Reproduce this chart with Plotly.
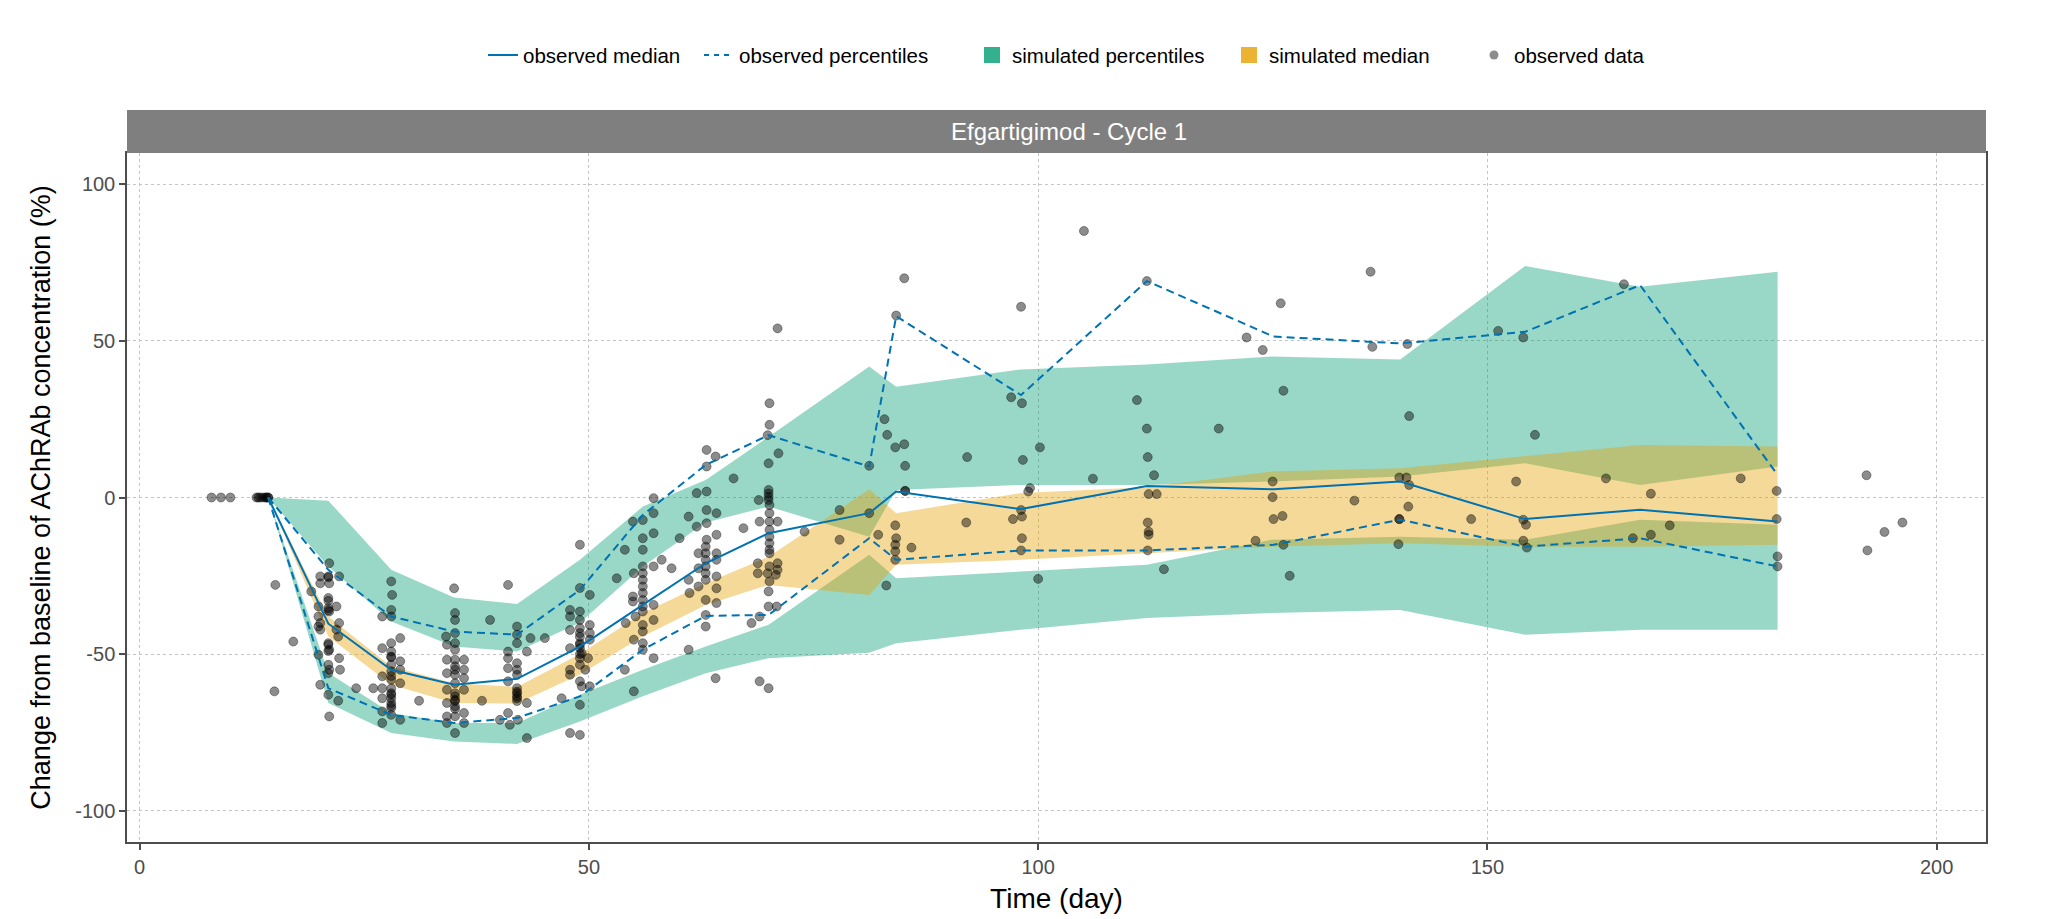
import plotly.graph_objects as go

# ---- simulated bins (time of bin, day) ----
bin_time = [14.3, 21, 28, 35, 42, 49, 56, 63, 70, 81.2, 84.2, 98.1, 112.1, 126, 140.3, 154.2, 167, 182.3]

# upper percentile CI ribbon (teal)
sim_hi_top = [0, -1, -23.1, -31.9, -34, -19.9, -2.9, 5.6, 19.4, 41.8, 35.4, 40.9, 42.5, 45, 44.1, 73.9, 67.3, 72.1]
sim_hi_bot = [0, -22, -39.6, -47.6, -49.2, -40, -22, -8, -2.9, -12.5, 2.4, 4.0, 4.0, 5.1, 6.7, 10.9, 4.0, 9.9]
# median CI ribbon (orange)
sim_med_top = [0, -38, -54, -59.3, -60.5, -50, -36.9, -27.4, -18.9, 2.6, -5, 1.4, 3.3, 8.3, 9.3, 13.1, 16.8, 16.3]
sim_med_bot = [0, -44.4, -59.8, -65.6, -65.8, -56.5, -44.4, -34.3, -27.9, -31.1, -21.5, -19.9, -17.8, -15.7, -14.6, -15.7, -15.7, -15.1]
# lower percentile CI ribbon (teal)
sim_lo_top = [0, -56, -68.8, -72, -72, -63, -55, -47.6, -40.6, -18.3, -25.8, -23.6, -21.5, -13.5, -12.5, -13.5, -7.1, -8.7]
sim_lo_bot = [0, -65.6, -75.2, -77.9, -78.7, -71.5, -63.5, -56.1, -51.3, -49.6, -46.5, -42.2, -38.5, -36.9, -35.9, -43.8, -42.2, -42.2]

# ---- observed summary lines ----
obs_time = [14.3, 21, 28, 35, 42, 49, 56, 63, 70, 81.2, 84.2, 98.1, 112.1, 126.2, 140.3, 154.2, 167, 182.3]
obs_median = [0, -40.3, -55, -59.8, -57.9, -47.6, -34.3, -21, -11.4, -5.0, 1.9, -3.7, 3.7, 2.6, 5.1, -6.9, -3.9, -7.7]
obs_p_hi = [0, -23.1, -38, -42.8, -43.8, -29.5, -5.6, 10.4, 19.9, 9.9, 57.9, 32.7, 69.1, 51.4, 49.2, 52.9, 67.8, 7.2]
obs_p_lo = [0, -60.9, -69.4, -72, -70.4, -63.5, -48.6, -37.8, -37.5, -13, -19.9, -16.9, -16.9, -15.1, -7.1, -15.7, -13, -22]

# ---- observed data points ----
obs_day = [
    8.0, 9.05, 10.1, 13.0, 13.2, 13.4, 13.7, 14.0, 14.1, 14.3, 14.3,
    15.1, 17.1, 15.0,
    # ~day 21
    21.1, 20.1, 21.0, 22.2, 20.1, 21.1, 19.1, 21.0, 19.9, 21.9, 21.0, 21.1, 19.9, 20.1, 22.2, 19.9,
    20.1, 21.9, 22.1, 21.0, 21.1, 19.9, 22.2, 21.0, 22.3, 21.1, 21.0, 20.1, 21.0, 22.1, 21.1,
    21.0, 21.0, 21.0, 21.0, 21.0, 24.1, 26.0, 31.1,
    # ~day 28
    28.0, 28.1, 28.0, 28.0, 27.0, 29.0, 28.0, 27.0, 28.0, 28.0, 29.0, 28.0, 29.0, 27.0, 28.0, 29.0,
    27.0, 28.0, 27.0, 28.0, 28.0, 28.0, 27.0, 28.0, 29.0, 27.0,
    28.0, 28.0, 28.0, 28.0, 28.0, 28.0,
    # ~day 35
    35.0, 35.1, 35.1, 35.1, 34.1, 35.1, 34.2, 35.1, 34.2, 35.1, 36.1, 35.1, 36.1, 34.2, 35.1, 36.1,
    35.1, 34.2, 36.1, 35.1, 35.1, 34.2, 35.1, 36.1, 34.2, 35.1, 34.2, 36.1, 35.1,
    35.1, 35.1, 35.1, 35.1, 39.0, 38.1,
    # ~day 42
    41.0, 42.0, 42.0, 42.0, 41.0, 43.1, 41.0, 42.0, 41.0, 42.0, 41.0, 42.0, 42.0, 42.0, 43.1, 41.0,
    40.1, 42.1, 41.2, 43.1, 42.0, 42.0, 42.0, 42.0, 43.5, 45.1,
    # ~day 49
    49.0, 49.0, 50.1, 47.9, 49.0, 47.9, 49.0, 50.1, 49.0, 47.9, 49.0, 50.1, 50.1, 49.0, 47.9, 49.0,
    49.2, 49.0, 49.9, 49.0, 47.9, 49.6, 47.9, 49.0, 49.2, 50.1, 46.96, 49.0, 47.9, 49.0,
    49.0, 49.0, 49.0, 53.1, 54.0, 55.0,
    # ~day 56
    57.2, 57.2, 54.9, 56.0, 57.2, 56.0, 54.0, 56.0, 58.1, 57.2, 59.2, 55.0, 56.0, 56.0, 56.0, 56.0,
    56.0, 56.0, 56.0, 56.0, 54.9, 54.9, 57.2, 55.2, 57.2, 54.1, 56.0, 56.0, 55.0, 56.0, 56.0, 57.2,
    # ~day 63
    63.1, 64.1, 63.1, 66.1, 62.0, 63.1, 63.1, 64.2, 61.1, 63.1, 62.0, 64.2, 60.1, 63.1, 63.0, 63.0,
    63.0, 63.0, 63.0, 63.0, 62.2, 64.2, 64.2, 62.2, 64.2, 61.1, 62.2, 64.2, 61.2, 63.0, 64.2, 63.0,
    63.0, 61.1, 64.1, 67.2, 68.1, 69.0, 69.0, 70.0,
    # ~day 70
    71.0, 70.1, 70.1, 69.9, 71.1, 70.0, 70.0, 70.0, 70.0, 70.0, 68.9, 70.1, 70.1, 71.0, 69.0, 70.1,
    70.1, 70.1, 70.1, 70.1, 70.1, 68.8, 71.0, 70.1, 71.0, 68.8, 69.9, 70.8, 70.1, 70.0, 70.0, 70.9,
    74.0, 77.9, 77.9,
    # ~day 84
    85.1, 84.2, 82.9, 83.2, 84.1, 85.1, 85.2, 81.2, 85.2, 85.2, 81.2, 82.2, 84.1, 84.2, 84.1, 84.1,
    84.1, 85.9, 83.1,
    # ~day 98
    92.1, 92.0, 97.0, 98.2, 98.1, 98.3, 100.2, 99.1, 98.9, 97.2, 98.1, 98.2, 98.2, 98.1, 100.0, 105.1, 106.1,
    # ~day 112
    112.1, 111.0, 112.1, 112.2, 112.9, 112.3, 113.2, 112.2, 112.3, 112.3, 112.2, 114.0, 120.1,
    # ~day 126
    123.2, 125.0, 127.0, 127.3, 126.1, 126.1, 126.2, 127.2, 124.2, 127.3, 128.0, 135.2,
    # ~day 140
    137.0, 137.2, 141.1, 141.3, 140.2, 141.0, 141.3, 141.2, 140.2, 140.2, 140.1, 148.2,
    # ~day 154
    151.2, 154.0, 155.3, 153.2, 154.0, 154.3, 154.0, 154.4, 163.2,
    # ~day 167
    165.2, 168.2, 170.3, 168.2, 166.2,
    # ~day 182 and later
    178.2, 182.2, 182.2, 182.3, 182.3, 192.2, 194.2, 196.2, 192.3,
]
obs_val = [
    0, 0, 0, 0, 0, 0, 0, 0, 0, 0, 0,
    -27.9, -46.0, -61.9,
    # ~day 21
    -21.0, -25.2, -25.2, -25.2, -27.4, -27.4, -30.0, -32.1, -34.8, -34.8, -35.3, -36.4, -38.0, -40.1, -40.1, -41.2,
    -42.2, -42.2, -44.4, -46.5, -48.6, -50.2, -51.3, -53.4, -55.0, -55.0, -56.1, -59.8, -63.0, -64.9, -69.9,
    -25.5, -33.0, -36.0, -47.0, -49.0, -60.9, -60.9, -64.9,
    # ~day 28
    -26.8, -31.1, -35.9, -38.0, -38.0, -44.9, -46.5, -48.1, -49.2, -50.8, -52.3, -53.4, -55.0, -57.1, -58.2, -59.3,
    -60.9, -62.5, -64.1, -64.1, -65.6, -67.2, -68.3, -69.4, -71.0, -72.0,
    -51.0, -55.5, -57.0, -61.0, -63.0, -66.5,
    # ~day 35
    -29.0, -36.9, -39.1, -43.3, -44.4, -46.5, -47.0, -48.6, -51.8, -51.8, -51.8, -53.9, -55.0, -56.1, -56.6, -57.7,
    -59.3, -61.4, -61.4, -62.5, -64.6, -65.6, -66.7, -68.8, -69.9, -69.9, -72.0, -72.0, -75.2,
    -63.5, -65.0, -67.5, -55.0, -39.1, -64.9,
    # ~day 42
    -27.9, -41.2, -43.8, -46.5, -49.2, -49.2, -51.3, -52.9, -54.5, -56.6, -58.7, -60.9, -62.5, -64.1, -65.6, -68.8,
    -71.0, -71.0, -72.6, -76.8, -62.0, -63.5, -65.0, -55.0, -44.9, -44.9,
    # ~day 49
    -15.1, -28.9, -31.1, -35.9, -36.4, -38.0, -39.1, -40.7, -41.7, -42.3, -43.3, -43.3, -45.4, -46.5, -48.1, -48.1,
    -49.7, -51.3, -51.3, -53.4, -55.0, -55.0, -56.6, -58.7, -60.3, -60.3, -64.1, -66.2, -75.2, -75.8,
    -44.5, -47.0, -50.0, -25.8, -55.0, -61.9,
    # ~day 56
    -0.2, -5.0, -7.7, -7.2, -11.4, -13.0, -16.7, -16.7, -19.9, -22.0, -22.6, -24.2, -22.0, -24.2, -26.3, -28.4,
    -30.5, -32.7, -34.8, -36.4, -31.6, -33.2, -34.3, -38.0, -39.1, -40.1, -40.7, -42.8, -45.4, -46.5, -48.6, -51.3,
    # ~day 63
    15.2, 13.1, 9.9, 6.1, 1.4, 1.9, -4.0, -5.0, -6.1, -8.2, -9.3, -11.9, -13.0, -13.5, -15.7, -17.8,
    -19.9, -22.0, -24.2, -26.3, -17.8, -17.8, -19.9, -22.6, -25.2, -26.3, -28.4, -29.0, -30.5, -32.7, -33.7, -37.5,
    -41.2, -48.6, -57.7, -9.8, -40.1, -38.0, -58.7, -60.9,
    # ~day 70
    54.0, 30.1, 23.2, 19.9, 14.1, 10.9, 2.4, 1.3, 0.2, -0.8, -0.8, -2.4, -5.0, -7.7, -7.7, -7.7,
    -10.3, -12.5, -14.6, -16.7, -17.8, -21.0, -21.0, -22.0, -23.1, -24.2, -24.2, -24.7, -26.8, -30.0, -34.8, -34.8,
    -10.9, -4.0, -13.5,
    # ~day 84
    70.0, 58.1, 25.0, 20.0, 16.0, 17.0, 10.1, 10.1, 2.1, 2.1, -5.0, -11.9, -8.9, -13.0, -15.1, -17.2,
    -19.9, -16.0, -28.1,
    # ~day 98
    12.9, -8.0, 32.0, 30.1, 60.9, 12.0, 16.0, 3.0, 1.9, -6.9, -4.0, -6.1, -13.0, -16.9, -26.0, 85.1, 6.0,
    # ~day 112
    69.1, 31.1, 22.0, 12.9, 7.1, 1.1, 1.1, -8.0, -10.9, -11.9, -16.9, -22.9, 22.0,
    # ~day 126
    51.1, 47.1, 62.0, 34.1, 5.1, 0.1, -6.9, -5.9, -13.8, -15.1, -25.0, -1.0,
    # ~day 140
    72.1, 48.1, 49.0, 26.0, 6.4, 6.4, 4.0, -2.9, -6.9, -6.9, -14.9, -6.9,
    # ~day 154
    53.2, 51.1, 20.0, 5.1, -7.1, -8.7, -13.8, -16.0, 6.1,
    # ~day 167
    68.1, 1.2, -8.9, -11.9, -13.0,
    # ~day 182 and later
    6.1, 2.1, -6.9, -18.8, -22.0, 7.1, -11.0, -8.0, -16.9,
]

# ---- text ----
strip_label = "Efgartigimod - Cycle 1"
x_title = "Time (day)"
y_title = "Change from baseline of AChRAb concentration (%)"
x_ticks = [0, 50, 100, 150, 200]
y_ticks = [-100, -50, 0, 50, 100]
legend_names = ["observed median", "observed percentiles", "simulated percentiles",
                "simulated median", "observed data"]

TEAL_FILL = "rgba(0,158,115,0.4)"
ORANGE_FILL = "rgba(230,159,0,0.4)"
TEAL_KEY = "rgba(0,158,115,0.8)"
ORANGE_KEY = "rgba(230,159,0,0.8)"
BLUE = "#0072B2"
PT_FILL = "rgba(0,0,0,0.45)"
PT_LINE = "rgba(0,0,0,0.35)"


def ribbon(x, top, bot, color):
    return go.Scatter(
        x=list(x) + list(x)[::-1],
        y=list(top) + list(bot)[::-1],
        fill="toself", fillcolor=color, mode="lines",
        line=dict(width=0), hoverinfo="skip", showlegend=False,
    )


fig = go.Figure()
fig.add_trace(ribbon(bin_time, sim_hi_top, sim_hi_bot, TEAL_FILL))
fig.add_trace(ribbon(bin_time, sim_lo_top, sim_lo_bot, TEAL_FILL))
fig.add_trace(ribbon(bin_time, sim_med_top, sim_med_bot, ORANGE_FILL))

fig.add_trace(go.Scatter(
    x=obs_day, y=obs_val, mode="markers",
    marker=dict(size=9, color=PT_FILL, line=dict(width=1, color=PT_LINE)),
    showlegend=False,
))

fig.add_trace(go.Scatter(x=obs_time, y=obs_p_hi, mode="lines",
                         line=dict(color=BLUE, width=2, dash="8px,5px"), showlegend=False))
fig.add_trace(go.Scatter(x=obs_time, y=obs_p_lo, mode="lines",
                         line=dict(color=BLUE, width=2, dash="8px,5px"), showlegend=False))
fig.add_trace(go.Scatter(x=obs_time, y=obs_median, mode="lines",
                         line=dict(color=BLUE, width=2), showlegend=False))

# legend keys, each in its own legend box so the spacing can follow the reference
fig.add_trace(go.Scatter(x=[None], y=[None], mode="lines", name=legend_names[0], legend="legend",
                         line=dict(color=BLUE, width=2)))
fig.add_trace(go.Scatter(x=[None], y=[None], mode="lines", name=legend_names[1], legend="legend2",
                         line=dict(color=BLUE, width=2, dash="5px,5px")))
fig.add_trace(go.Scatter(x=[None], y=[None], mode="markers", name=legend_names[2], legend="legend3",
                         marker=dict(symbol="square", size=20, color=TEAL_KEY)))
fig.add_trace(go.Scatter(x=[None], y=[None], mode="markers", name=legend_names[3], legend="legend4",
                         marker=dict(symbol="square", size=20, color=ORANGE_KEY)))
fig.add_trace(go.Scatter(x=[None], y=[None], mode="markers", name=legend_names[4], legend="legend5",
                         marker=dict(size=9, color=PT_FILL)))

W, H = 2048, 919
L, R, T, B = 127, 62, 153, 77
plot_w = W - L - R
plot_h = H - T - B
strip_h = 43

# left edges (px) of each legend box
legend_left_px = [483, 699, 972, 1229, 1474]


def legend_cfg(px):
    return dict(orientation="h", x=(px - L) / plot_w, xanchor="left",
                y=1.142, yanchor="middle", font=dict(size=20.5, color="black"),
                itemwidth=30, bgcolor="rgba(0,0,0,0)")


fig.update_layout(
    width=W, height=H,
    margin=dict(l=L, r=R, t=T, b=B, autoexpand=False),
    paper_bgcolor="white", plot_bgcolor="white",
    font=dict(family="Liberation Sans, Arial, sans-serif", color="black"),
    legend=legend_cfg(legend_left_px[0]),
    legend2=legend_cfg(legend_left_px[1]),
    legend3=legend_cfg(legend_left_px[2]),
    legend4=legend_cfg(legend_left_px[3]),
    legend5=legend_cfg(legend_left_px[4]),
    xaxis=dict(range=[-1.41, 205.5], tickvals=x_ticks, ticktext=[str(v) for v in x_ticks],
               showgrid=True, gridcolor="#c4c4c4", griddash="dot", gridwidth=1,
               zeroline=False, showline=True, linecolor="#4d4d4d", linewidth=1.5, mirror=True,
               ticks="outside", ticklen=6, tickcolor="#4d4d4d", tickwidth=1.5,
               tickfont=dict(size=20, color="#4d4d4d"),
               title=dict(text=x_title, font=dict(size=28, color="black"), standoff=12),
               automargin=False),
    yaxis=dict(range=[-110, 110], tickvals=y_ticks, ticktext=[str(v) for v in y_ticks],
               showgrid=True, gridcolor="#c4c4c4", griddash="dot", gridwidth=1,
               zeroline=False, showline=True, linecolor="#4d4d4d", linewidth=1.5, mirror=True,
               ticks="outside", ticklen=6, tickcolor="#4d4d4d", tickwidth=1.5,
               tickfont=dict(size=20, color="#4d4d4d"),
               title=dict(text=y_title, font=dict(size=27, color="black"), standoff=17),
               automargin=False),
    shapes=[dict(type="rect", xref="paper", yref="paper", x0=0, x1=1,
                 y0=1, y1=1 + strip_h / plot_h, fillcolor="#7f7f7f",
                 line=dict(width=0), layer="above")],
    annotations=[dict(text=strip_label, xref="paper", yref="paper", x=0.5065,
                      y=1 + strip_h / plot_h / 2, showarrow=False,
                      font=dict(size=24, color="white"), xanchor="center", yanchor="middle")],
)

fig.write_html("out.html")
